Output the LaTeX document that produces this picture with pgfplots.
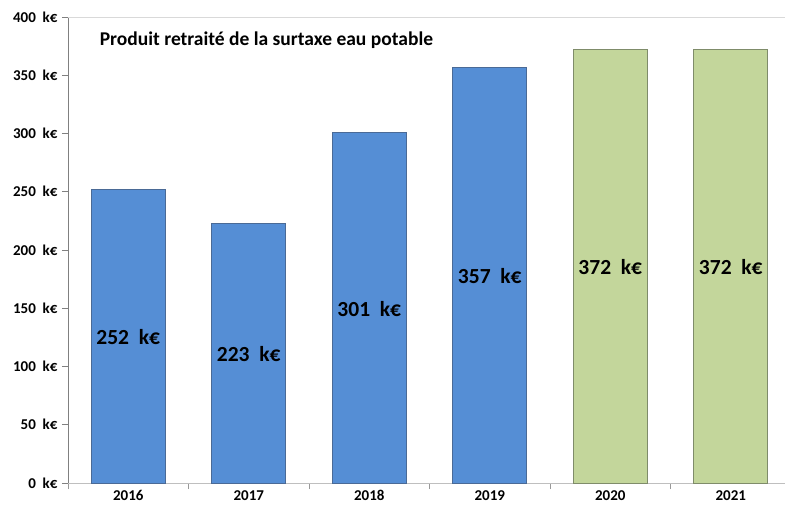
\documentclass[border=0pt]{standalone}
\usepackage{pgfplots}
\pgfplotsset{compat=1.18}
\usepackage{fontspec}
\setmainfont{Carlito}
\definecolor{barblue}{HTML}{558ED5}
\definecolor{bargreen}{HTML}{C3D69B}
\definecolor{edgeblue}{HTML}{4A6A96}
\definecolor{edgegreen}{HTML}{7F8C6A}
\begin{document}
\begin{tikzpicture}
\begin{axis}[
  scale only axis,
  width=717bp, height=466bp,
  xmin=-0.5, xmax=5.45,
  ymin=0, ymax=400,
  axis x line*=bottom, axis y line*=left,
  x axis line style={draw=black!25, line width=1pt},
  y axis line style={draw=black!50, line width=0.8pt},
  xtick={0,1,2,3,4,5},
  xticklabels={2016,2017,2018,2019,2020,2021},
  major x tick style={draw=none},
  minor xtick={-0.5,0.5,1.5,2.5,3.5,4.5},
  minor x tick style={draw=black!40, line width=0.8pt},
  minor tick length=6bp,
  ytick={0,50,...,400},
  y tick style={draw=black!50, line width=0.8pt},
  major tick length=6bp,
  tick align=outside,
  yticklabel={\pgfmathprintnumber[assume math mode=true]{\tick}\ \ k€},
  ticklabel style={font=\fontsize{15bp}{17bp}\selectfont\bfseries},
  xticklabel style={yshift=0bp, inner sep=1bp},
  yticklabel style={xshift=-1bp},
  clip=false,
]
\coordinate (O) at (rel axis cs:0,0);
\draw[black!15, line width=1pt] (rel axis cs:0,1) -- (rel axis cs:1,1);
\addplot[ybar, bar width=0.615, bar shift=0pt, fill=barblue, draw=edgeblue, line width=0.8pt]
  coordinates {(0,252) (1,223) (2,301) (3,357)};
\addplot[ybar, bar width=0.615, bar shift=0pt, fill=bargreen, draw=edgegreen, line width=0.8pt]
  coordinates {(4,372) (5,372)};
\addplot[draw=none, mark=none, nodes near coords, point meta=explicit symbolic,
  nodes near coords align=center,
  every node near coord/.append style={font=\fontsize{21.5bp}{24bp}\selectfont\bfseries, anchor=center}]
  coordinates {(0,125)[252\ \ k€] (1,110.5)[223\ \ k€] (2,149.5)[301\ \ k€] (3,177.5)[357\ \ k€] (4,185)[372\ \ k€] (5,185)[372\ \ k€]};
\node[anchor=west, font=\fontsize{19.5bp}{22bp}\selectfont\bfseries] at (axis cs:-0.265,380) {Produit retraité de la surtaxe eau potable};
\end{axis}
\pgfresetboundingbox
\path (O) ++(-68bp,-25bp) rectangle ++(785bp,508bp);
\end{tikzpicture}
\end{document}
